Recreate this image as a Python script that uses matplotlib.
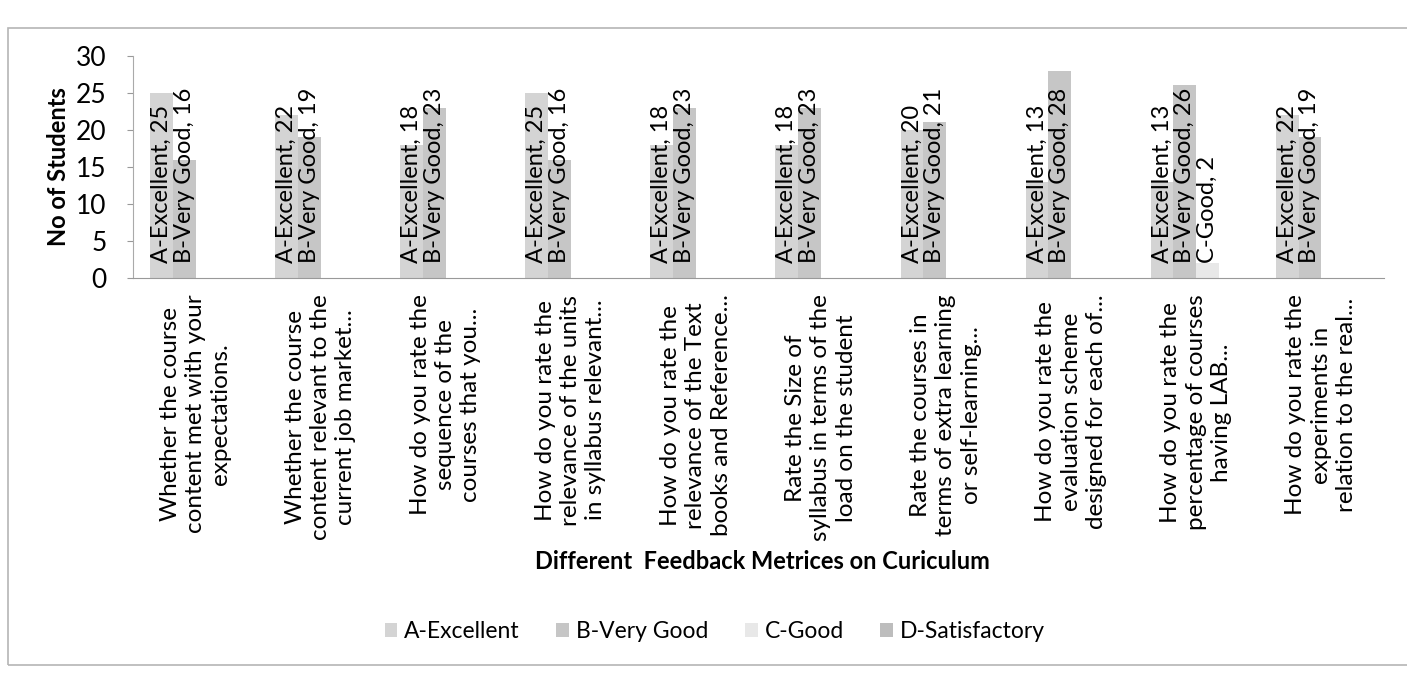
import matplotlib.pyplot as plt
import numpy as np
from matplotlib.patches import Rectangle

plt.rcParams['font.family'] = ['Lato', 'DejaVu Sans']

# data
questions = [
    "Whether the course\ncontent met with your\nexpectations.",
    "Whether the course\ncontent relevant to the\ncurrent job market...",
    "How do you rate the\nsequence of the\ncourses that you...",
    "How do you rate the\nrelevance of the units\nin syllabus relevant...",
    "How do you rate the\nrelevance of the Text\nbooks and Reference...",
    "Rate the Size of\nsyllabus in terms of the\nload on the student",
    "Rate the courses in\nterms of extra learning\nor self-learning...",
    "How do you rate the\nevaluation scheme\ndesigned for each of...",
    "How do you rate the\npercentage of courses\nhaving LAB...",
    "How do you rate the\nexperiments in\nrelation to the real...",
]
series_names = ["A-Excellent", "B-Very Good", "C-Good", "D-Satisfactory"]
excellent = [25, 22, 18, 25, 18, 18, 20, 13, 13, 22]
very_good = [16, 19, 23, 16, 23, 23, 21, 28, 26, 19]
good = [0, 0, 0, 0, 0, 0, 0, 0, 2, 0]
satisfactory = [0, 0, 0, 0, 0, 0, 0, 0, 0, 0]

series = [excellent, very_good, good, satisfactory]
colors = ["#d4d4d4", "#c6c6c6", "#e8e8e8", "#bdbdbd"]

fig = plt.figure(figsize=(14.07, 6.73), dpi=100)
ax = fig.add_axes([0.0945, 0.587, 0.889, 0.330])

# outer chart frame
fig.patches.append(Rectangle((0.006, 0.012), 1.2, 0.946, transform=fig.transFigure,
                             fill=False, edgecolor="#b5b5b5", linewidth=1.2))

x = np.arange(len(questions))
w = 1 / 5.5
for i, (name, vals, col) in enumerate(zip(series_names, series, colors)):
    pos = x + (i - 1.5) * w
    ax.bar(pos, vals, width=w, color=col, label=name)
    for p, v in zip(pos, vals):
        if v > 0:
            ax.annotate(f"{name}, {v}", (p, 0), xytext=(0, 11), textcoords="offset points",
                        rotation=90, ha="center", va="bottom", fontsize=17)

ax.set_xlim(-0.5, len(questions) - 0.5)
ax.set_ylim(0, 30)
ax.set_yticks(range(0, 31, 5))
ax.tick_params(axis="y", labelsize=19, length=4, color="#999999", pad=15)
ax.set_xticks(x)
ax.set_xticklabels(questions, rotation=90, ha="center", va="top",
                   multialignment="center", fontsize=17.5, linespacing=1.25)
ax.tick_params(axis="x", length=0, pad=12)

for s in ["top", "right"]:
    ax.spines[s].set_visible(False)
ax.spines["left"].set_color("#aaaaaa")
ax.spines["bottom"].set_color("#999999")

ax.set_ylabel("No of Students", fontsize=17, fontweight="bold", labelpad=4)
fig.text(0.542, 0.165, "Different  Feedback Metrices on Curiculum", ha="center",
         va="center", fontsize=17, fontweight="bold")

fig.legend(loc="center", bbox_to_anchor=(0.508, 0.062), ncol=4, frameon=False,
           fontsize=16.5, handlelength=0.55, handleheight=0.55, columnspacing=1.6,
           handletextpad=0.3)

fig.savefig("out.png", dpi=100)
